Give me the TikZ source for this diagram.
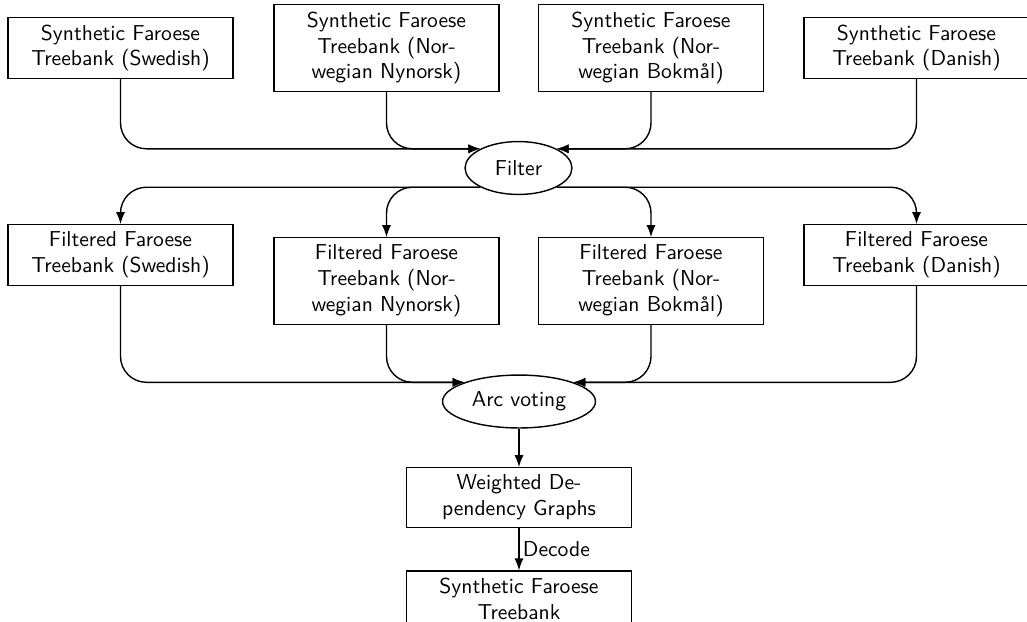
\documentclass[tikz,border=0pt]{standalone}
\usetikzlibrary{arrows.meta,shapes.geometric}
\begin{document}
\begin{tikzpicture}[x=0.463pt,y=-0.463pt,
  every node/.style={font=\sffamily},
  tbox/.style={draw,rectangle,align=center,minimum width=104.2pt,inner sep=3.3pt},
  oval/.style={draw,ellipse,inner sep=0pt,minimum height=24.5pt},
  arr/.style={-{Latex[length=5.5pt,width=4.2pt]},rounded corners=12pt},
  line width=0.65pt]
\clip (0,0) rectangle (1027,621);
\node[tbox] (s1) at (120.5,48) {Synthetic Faroese\\Treebank (Swedish)};
\node[tbox] (s2) at (386.5,48) {Synthetic Faroese\\Treebank (Nor-\\wegian Nynorsk)};
\node[tbox] (s3) at (651,48) {Synthetic Faroese\\Treebank (Nor-\\wegian Bokmål)};
\node[tbox] (s4) at (916.5,48) {Synthetic Faroese\\Treebank (Danish)};
\node[oval,minimum width=49.5pt] (filter) at (518.5,168) {Filter};
\node[tbox] (f1) at (120.5,255) {Filtered Faroese\\Treebank (Swedish)};
\node[tbox] (f2) at (386.5,281) {Filtered Faroese\\Treebank (Nor-\\wegian Nynorsk)};
\node[tbox] (f3) at (651,281) {Filtered Faroese\\Treebank (Nor-\\wegian Bokmål)};
\node[tbox] (f4) at (916.5,255) {Filtered Faroese\\Treebank (Danish)};
\node[oval,minimum width=70.8pt] (arc) at (519,401.5) {Arc voting};
\node[tbox] (wdg) at (519,497.5) {Weighted De-\\pendency Graphs};
\node[tbox] (fin) at (519,599) {Synthetic Faroese\\Treebank};
\draw[arr] (s1) |- (filter.north west);
\draw[arr] (s2) |- (filter.north west);
\draw[arr] (s3) |- (filter.north east);
\draw[arr] (s4) |- (filter.north east);
\draw[arr] (filter.south west) -| (f1);
\draw[arr] (filter.south west) -| (f2);
\draw[arr] (filter.south east) -| (f3);
\draw[arr] (filter.south east) -| (f4);
\draw[arr] (f1) |- (arc.north west);
\draw[arr] (f2) |- (arc.north west);
\draw[arr] (f3) |- (arc.north east);
\draw[arr] (f4) |- (arc.north east);
\draw[arr] (arc) -- (wdg);
\draw[arr] (wdg) -- node[right,inner sep=1.5pt] (dec) {Decode} (fin);
\end{tikzpicture}
\end{document}
